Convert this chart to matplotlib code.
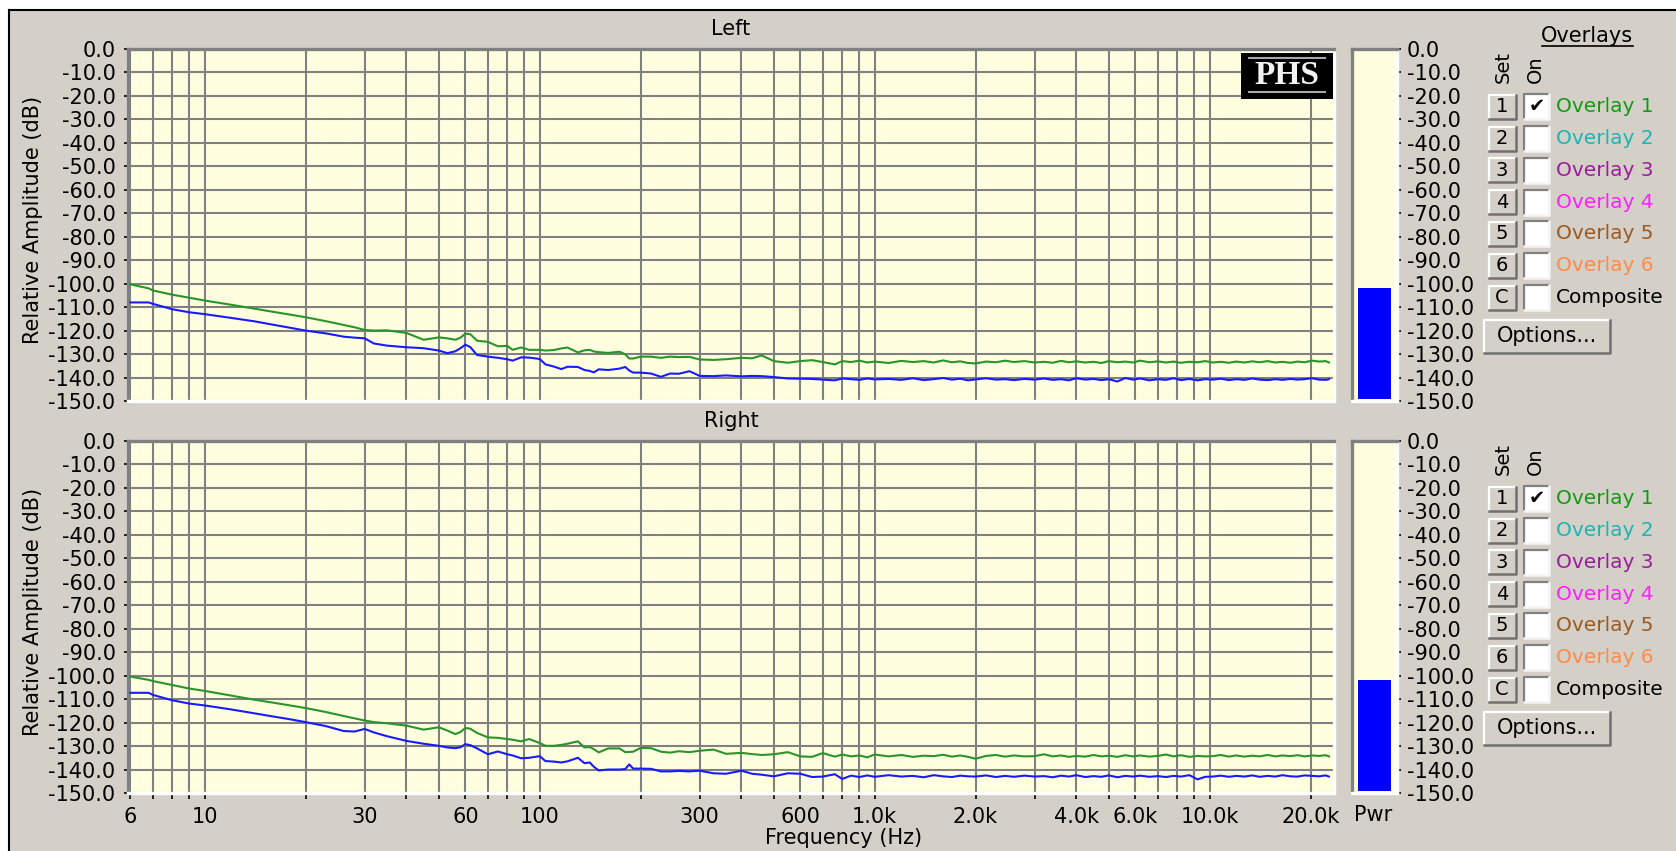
import matplotlib
matplotlib.use("Agg")
import matplotlib.pyplot as plt
from matplotlib.patches import Rectangle
from matplotlib.lines import Line2D
from matplotlib.ticker import LogLocator, NullFormatter

plt.rcParams['font.family'] = ['DejaVu Sans']

# ---- data ----
freq = [
    6, 6.8, 7, 8, 9, 10, 12, 14, 16, 18,
    20, 23, 26, 28, 30, 32, 35, 40, 45, 50,
    53, 56, 58, 60, 62, 65, 70, 75, 80, 83,
    88, 93, 100, 104, 110, 116, 121, 130, 136, 141,
    145, 150, 160, 173, 180, 185, 190, 200, 215, 230,
    245, 260, 280, 300, 330, 360, 400, 430, 460, 500,
    550, 600, 650, 700, 760, 800, 850, 900, 950, 1000,
    1100, 1200, 1300, 1400, 1500, 1600, 1700, 1800, 1900, 2000,
    2150, 2300, 2450, 2600, 2800, 3000, 3200, 3400, 3600, 3800,
    4000, 4250, 4500, 4750, 5000, 5300, 5600, 5900, 6200, 6600,
    7000, 7400, 7800, 8200, 8700, 9200, 9700, 10200, 10800, 11400,
    12000, 12700, 13400, 14100, 14900, 15700, 16500, 17400, 18300, 19200,
    20200, 21200, 22200, 22700]

left_green = [
    -100.3, -102.0, -102.9, -104.7, -106.0, -107.2, -109.0, -110.6, -112.0, -113.2,
    -114.3, -116.0, -117.6, -118.6, -119.7, -120.0, -119.9, -121.0, -123.9, -122.9,
    -123.3, -123.9, -123.0, -121.3, -121.5, -124.3, -124.8, -126.7, -126.5, -128.2,
    -127.2, -128.2, -128.2, -128.5, -128.3, -127.6, -127.2, -129.3, -128.4, -128.2,
    -128.9, -129.2, -129.5, -129.0, -130.1, -131.9, -131.9, -131.1, -131.1, -131.6,
    -131.1, -131.3, -131.2, -132.3, -132.5, -132.2, -131.6, -131.8, -130.6, -133.0,
    -133.7, -133.0, -132.6, -133.4, -134.4, -133.0, -133.4, -132.8, -133.6, -133.2,
    -133.8, -132.9, -133.4, -133.0, -133.6, -132.7, -133.5, -133.1, -133.8, -134.0,
    -133.2, -133.5, -132.8, -133.4, -133.0, -133.6, -133.3, -133.7, -132.9, -133.5,
    -133.1, -133.6, -133.3, -133.8, -133.0, -133.5, -133.2, -133.6, -132.8, -133.5,
    -133.1, -133.6, -133.2, -133.7, -133.3, -133.5, -133.0, -133.6, -133.3, -133.7,
    -133.2, -133.6, -133.1, -133.5, -133.0, -133.6, -133.3, -133.7, -133.2, -133.5,
    -132.8, -133.2, -133.0, -133.6]

left_blue = [
    -108.0, -108.0, -108.6, -110.9, -112.2, -113.0, -114.6, -116.0, -117.5, -118.8,
    -120.0, -121.2, -122.6, -123.0, -123.3, -125.5, -126.4, -127.1, -127.5, -128.5,
    -129.6, -128.8, -127.5, -126.0, -127.0, -130.4, -131.1, -131.6, -132.2, -132.8,
    -131.4, -131.5, -132.1, -134.4, -135.3, -136.4, -135.4, -135.5, -136.8, -137.2,
    -137.8, -136.5, -136.8, -136.2, -135.5, -137.0, -137.9, -137.9, -138.3, -139.7,
    -138.3, -138.4, -137.3, -139.3, -139.4, -139.1, -139.5, -139.3, -139.4, -139.8,
    -140.4, -140.5, -140.6, -140.9, -141.2, -140.4, -140.7, -141.0, -140.4, -140.8,
    -140.6, -141.0, -140.3, -141.1, -140.7, -140.2, -140.9, -140.5, -141.2, -140.8,
    -140.3, -140.9, -140.7, -141.1, -140.6, -140.9, -140.4, -141.0, -140.7, -141.2,
    -140.3, -140.9, -140.6, -141.1, -140.7, -141.7, -140.2, -140.9, -140.4, -141.2,
    -140.7, -141.0, -140.3, -141.1, -140.6, -141.2, -140.7, -140.9, -140.5, -141.1,
    -140.7, -141.0, -140.4, -140.9, -141.1, -140.7, -141.0, -140.6, -140.9, -140.7,
    -140.3, -140.9, -141.0, -140.7]

right_green = [
    -100.4, -101.8, -102.3, -104.0, -105.5, -106.5, -108.5, -110.2, -111.5, -112.7,
    -113.8, -115.5, -117.2, -118.2, -119.1, -119.8, -120.3, -121.3, -123.0, -122.0,
    -123.4, -124.9, -124.0, -122.3, -122.6, -124.4, -126.3, -126.5, -127.0, -127.3,
    -128.0, -127.0, -128.7, -129.9, -129.9, -129.5, -129.0, -128.0, -130.6, -130.4,
    -131.3, -132.7, -131.0, -131.0, -132.6, -132.5, -132.4, -130.8, -130.9, -132.4,
    -132.8, -132.2, -132.6, -132.0, -131.5, -133.3, -132.9, -133.4, -133.8, -133.5,
    -132.6, -134.4, -134.6, -133.0, -134.5, -133.6, -134.4, -134.0, -134.8, -133.6,
    -134.4, -133.8, -134.6, -134.1, -134.3, -133.7, -134.5, -134.0, -134.6, -135.4,
    -134.2, -133.8, -134.5, -134.0, -134.4, -134.3, -133.5, -134.4, -134.0, -134.6,
    -134.2, -134.5, -133.8, -134.4, -134.1, -134.6, -133.9, -134.4, -134.0, -134.5,
    -134.2, -133.6, -134.4, -133.9, -134.6, -134.2, -134.4, -134.3, -133.8, -134.5,
    -134.0, -134.5, -134.1, -134.4, -133.8, -134.4, -134.0, -134.3, -133.9, -134.4,
    -134.0, -134.2, -133.9, -134.4]

right_blue = [
    -107.3, -107.3, -108.2, -110.5, -111.9, -112.7, -114.4, -116.0, -117.4, -118.6,
    -119.8, -121.5, -123.6, -123.8, -122.7, -124.2, -125.8, -127.8, -129.0, -129.9,
    -130.6, -130.9, -130.5, -129.2, -129.6, -131.0, -133.5, -132.3, -133.5, -134.0,
    -135.2, -135.0, -134.3, -136.4, -136.6, -137.0, -136.5, -135.0, -137.3, -137.0,
    -138.8, -140.4, -140.0, -140.0, -139.8, -137.8, -139.6, -139.6, -139.7, -140.8,
    -140.8, -140.6, -140.8, -140.5, -141.6, -141.8, -140.5, -141.8, -142.2, -142.9,
    -141.6, -141.8, -143.2, -143.0, -142.0, -144.0, -142.6, -143.2, -142.5, -143.1,
    -142.4, -143.0, -142.7, -143.3, -142.4, -142.9, -143.2, -142.6, -142.9, -143.0,
    -142.5, -143.2, -142.7, -143.1, -142.6, -143.0, -142.8, -143.3, -142.6, -143.0,
    -142.4, -143.2, -142.8, -143.1, -142.5, -143.3, -142.7, -143.0, -142.6, -143.1,
    -142.8, -143.2, -142.7, -143.0, -142.4, -144.2, -143.1, -143.0, -142.6, -143.1,
    -142.7, -143.0, -142.5, -143.1, -142.7, -143.0, -142.4, -142.9, -143.0, -142.5,
    -142.7, -142.9, -142.5, -143.0]

pwr_level = [-102.0, -102.0]   # left, right

db_ticks = [0, -10, -20, -30, -40, -50, -60, -70, -80, -90, -100, -110, -120, -130, -140, -150]
db_labels = ['0.0', '-10.0', '-20.0', '-30.0', '-40.0', '-50.0', '-60.0', '-70.0', '-80.0',
             '-90.0', '-100.0', '-110.0', '-120.0', '-130.0', '-140.0', '-150.0']
freq_ticks = [6, 10, 30, 60, 100, 300, 600, 1000, 2000, 4000, 6000, 10000, 20000]
freq_labels = ['6', '10', '30', '60', '100', '300', '600', '1.0k', '2.0k', '4.0k', '6.0k', '10.0k', '20.0k']

overlay_keys = ['1', '2', '3', '4', '5', '6', 'C']
overlay_names = ['Overlay 1', 'Overlay 2', 'Overlay 3', 'Overlay 4', 'Overlay 5', 'Overlay 6', 'Composite']
overlay_colors = ['#139a13', '#1cb4b4', '#9c1c9c', '#ff20ff', '#9a5a22', '#ff8a4a', '#000000']
overlay_on = [True, False, False, False, False, False, False]

# ---- layout helpers (pixel coords from top-left) ----
W, H = 1676, 851
GRAY = '#d4d0c8'
YELLOW = '#ffffe0'
GRID = '#808080'
FS = 15

fig = plt.figure(figsize=(W / 100, H / 100), dpi=100)
fig.patch.set_facecolor('white')


def fx(x):
    return x / W


def fy(y):
    return 1 - y / H


def px_axes(x0, y0, x1, y1):
    return fig.add_axes([fx(x0), fy(y1), (x1 - x0) / W, (y1 - y0) / H])


def fline(xs, ys, **kw):
    fig.add_artist(Line2D([fx(v) for v in xs], [fy(v) for v in ys],
                          transform=fig.transFigure, **kw))


def bevel(x0, y0, w, h, raised=True, fill=GRAY):
    fig.add_artist(Rectangle((fx(x0), fy(y0 + h)), w / W, h / H, transform=fig.transFigure,
                             facecolor=fill, edgecolor='none'))
    light, dark = ('white', '#707070') if raised else ('#808080', '#f4f4f4')
    fline([x0, x0, x0 + w], [y0 + h, y0, y0], color=light, lw=1.6)
    fline([x0, x0 + w, x0 + w], [y0 + h, y0 + h, y0], color=dark, lw=1.8)


def sunken(ax):
    for s in ('top', 'left'):
        ax.spines[s].set_color(GRID)
        ax.spines[s].set_linewidth(2.4)
    for s in ('bottom', 'right'):
        ax.spines[s].set_color('white')
        ax.spines[s].set_linewidth(2.4)


# window background with black border
fig.add_artist(Rectangle((fx(8), 0), 1 - fx(8), fy(10), transform=fig.transFigure,
                         facecolor=GRAY, edgecolor='none', zorder=0))
fline([9, 9], [10, H], color='black', lw=1.5)
fline([9, W], [10, 10], color='black', lw=1.5)

panels = [('Left', left_green, left_blue, 0), ('Right', right_green, right_blue, 392)]

for idx, (name, g, b, dy) in enumerate(panels):
    ax = px_axes(128, 49 + dy, 1334, 401 + dy)
    ax.set_facecolor(YELLOW)
    ax.set_xscale('log')
    ax.set_xlim(5.9, 23500)
    ax.set_ylim(-150, 0)
    ax.set_xticks(freq_ticks)
    ax.xaxis.set_minor_locator(LogLocator(base=10, subs=(1, 2, 3, 4, 5, 6, 7, 8, 9), numticks=20))
    ax.xaxis.set_minor_formatter(NullFormatter())
    ax.set_yticks(db_ticks)
    ax.set_yticklabels(db_labels)
    ax.grid(which='both', color=GRID, lw=1.5)
    ax.set_axisbelow(True)
    sunken(ax)
    ax.plot(freq, g, color='#2a942a', lw=1.5, zorder=3)
    ax.plot(freq, b, color='#1a1aff', lw=1.5, zorder=3)
    ax.tick_params(axis='y', length=3, width=1.2, color='black', pad=6, labelsize=FS)
    if idx == 0:
        ax.tick_params(axis='x', which='both', length=0, labelbottom=False)
    else:
        ax.set_xticklabels(freq_labels)
        ax.tick_params(axis='x', which='both', length=4, width=1.2, color='black',
                       pad=6, labelsize=FS)
    fig.text(fx(731), fy(29 + dy), name, ha='center', va='center', fontsize=FS)
    fig.text(fx(33), fy(220 + dy), 'Relative Amplitude (dB)', rotation=90,
             ha='center', va='center', fontsize=FS)

    # power bar
    pa = px_axes(1352, 49 + dy, 1397, 401 + dy)
    pa.set_facecolor(YELLOW)
    pa.set_xlim(-0.5, 0.5)
    pa.set_ylim(-150, 0)
    pa.bar([0], [pwr_level[idx] + 149], bottom=-149, width=0.72, color='#0000ff')
    pa.set_xticks([])
    pa.set_yticks(db_ticks)
    pa.set_yticklabels(db_labels)
    pa.yaxis.tick_right()
    pa.tick_params(axis='y', length=3, width=1.2, color='black', pad=4, labelsize=FS)
    sunken(pa)

    # overlay controls
    fig.text(fx(1503), fy(83 + dy), 'Set', rotation=90, ha='center', va='bottom', fontsize=14)
    fig.text(fx(1535), fy(83 + dy), 'On', rotation=90, ha='center', va='bottom', fontsize=14)
    for i in range(len(overlay_keys)):
        yc = 106.7 + 31.8 * i + dy
        bevel(1489, yc - 12, 27, 24, raised=True)
        fig.text(fx(1502), fy(yc), overlay_keys[i], ha='center', va='center', fontsize=14)
        bevel(1524, yc - 12.5, 25, 25, raised=False, fill='white')
        if overlay_on[i]:
            fig.text(fx(1537), fy(yc), '\u2714', ha='center', va='center', fontsize=14)
        fig.text(fx(1556), fy(yc), overlay_names[i], ha='left', va='center',
                 fontsize=14.5, color=overlay_colors[i])
    bevel(1484, 320 + dy, 126, 33, raised=True)
    fig.text(fx(1547), fy(336.5 + dy), 'Options...', ha='center', va='center', fontsize=FS)

# PHS logo
fig.add_artist(Rectangle((fx(1241), fy(99)), 92 / W, 46 / H, transform=fig.transFigure,
                         facecolor='black', edgecolor='none', zorder=5))
fline([1249, 1325], [58, 58], color='#a8a8a8', lw=1.5, zorder=6)
fline([1249, 1325], [92, 92], color='#a8a8a8', lw=1.5, zorder=6)
fig.text(fx(1287), fy(76), 'PHS', ha='center', va='center', fontsize=24,
         family='Liberation Serif', weight='bold', color='#f2f2f2', zorder=7)

# overlays heading
fig.text(fx(1587), fy(36), 'Overlays', ha='center', va='center', fontsize=FS)
fline([1542, 1633], [46, 46], color='black', lw=1.2)

fig.text(fx(1373), fy(815), 'Pwr', ha='center', va='center', fontsize=FS)
fig.text(fx(844), fy(838), 'Frequency (Hz)', ha='center', va='center', fontsize=FS)

fig.savefig('out.png', dpi=100)
